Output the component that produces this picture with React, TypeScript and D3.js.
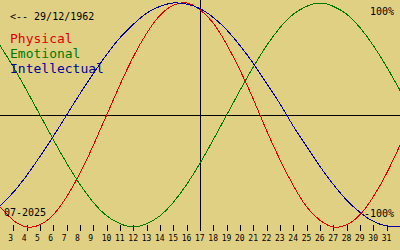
import { useEffect } from "react";
import * as d3 from "d3";

// days of the month shown, July 2025 (day 2 sits on the left edge, day 32 on the right)
const days = d3.range(2, 33);
const tickDays = d3.range(3, 32);
const today = 17;

// values, one per day from 2 to 32
const physical = [
  -0.82, -0.94, -1.0, -0.98, -0.89, -0.73, -0.52, -0.27, 0.0, 0.27, 0.52,
  0.73, 0.89, 0.98, 1.0, 0.94, 0.82, 0.63, 0.4, 0.14, -0.14, -0.4, -0.63,
  -0.82, -0.94, -1.0, -0.98, -0.89, -0.73, -0.52, -0.27,
];
const emotional = [
  0.62, 0.43, 0.22, 0.0, -0.22, -0.43, -0.62, -0.78, -0.9, -0.97, -1.0,
  -0.97, -0.9, -0.78, -0.62, -0.43, -0.22, 0.0, 0.22, 0.43, 0.62, 0.78, 0.9,
  0.97, 1.0, 0.97, 0.9, 0.78, 0.62, 0.43, 0.22,
];
const intellectual = [
  -0.81, -0.69, -0.54, -0.37, -0.19, 0.0, 0.19, 0.37, 0.54, 0.69, 0.81, 0.91,
  0.97, 1.0, 0.99, 0.95, 0.87, 0.76, 0.62, 0.46, 0.28, 0.1, -0.1, -0.28,
  -0.46, -0.62, -0.76, -0.87, -0.95, -0.99, -1.0,
];

const series = [
  { name: "Physical", values: physical, color: "#e00000" },
  { name: "Emotional", values: emotional, color: "#007800" },
  { name: "Intellectual", values: intellectual, color: "#0000a0" },
];

const width = 400;
const height = 250;
const mono = "'DejaVu Sans Mono', monospace";

export default function App() {
  useEffect(() => {
    document.body.style.margin = "0";
  }, []);

  const x = d3.scaleLinear().domain([2, 32]).range([0, width]);
  const y = d3.scaleLinear().domain([-1, 1]).range([227, 3]);

  const line = d3
    .line<number>()
    .x((_, i) => x(days[i]))
    .y((v) => y(v))
    .curve(d3.curveNatural);

  return (
    <svg width={width} height={height} style={{ display: "block" }}>
      <rect width={width} height={height} fill="#e0d084" />

      <line x1={0} x2={width} y1={y(0) + 0.5} y2={y(0) + 0.5} stroke="#000" />
      <line
        x1={Math.round(x(today)) + 0.5}
        x2={Math.round(x(today)) + 0.5}
        y1={0}
        y2={231}
        stroke="#000"
      />

      {tickDays.map((d) => (
        <g key={d}>
          <line
            x1={Math.round(x(d)) + 0.5}
            x2={Math.round(x(d)) + 0.5}
            y1={225}
            y2={231}
            stroke="#000"
          />
          <text x={x(d) - 5} y={241} fontFamily={mono} fontSize={8} fill="#000">
            {d}
          </text>
        </g>
      ))}

      {series.map((s) => (
        <path
          key={s.name}
          d={line(s.values) ?? ""}
          fill="none"
          stroke={s.color}
          strokeWidth={1}
          shapeRendering="crispEdges"
        />
      ))}

      <text x={10} y={20} fontFamily={mono} fontSize={10} fill="#000">
        {"<-- 29/12/1962"}
      </text>
      {series.map((s, i) => (
        <text
          key={s.name}
          x={10}
          y={43 + i * 15}
          fontFamily={mono}
          fontSize={13}
          fill={s.color}
        >
          {s.name}
        </text>
      ))}
      <text x={394} y={15} textAnchor="end" fontFamily={mono} fontSize={10} fill="#000">
        100%
      </text>
      <text x={394} y={217} textAnchor="end" fontFamily={mono} fontSize={10} fill="#000">
        -100%
      </text>
      <text x={4} y={216} fontFamily={mono} fontSize={10} fill="#000">
        07-2025
      </text>
    </svg>
  );
}
